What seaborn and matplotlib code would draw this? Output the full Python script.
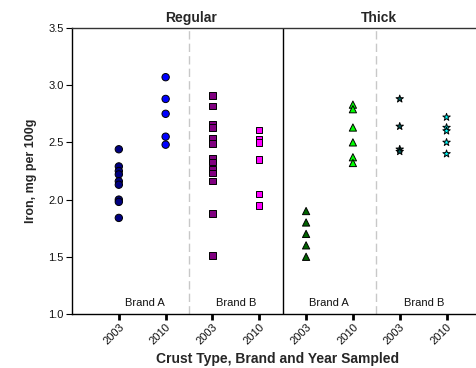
import numpy as np
import pandas as pd
import matplotlib
matplotlib.use("Agg")
import matplotlib.pyplot as plt
import matplotlib.transforms as mtransforms
import seaborn as sns

# ---- data ----
groups = ["Regular A 2003", "Regular A 2010", "Regular B 2003", "Regular B 2010",
          "Thick A 2003", "Thick A 2010", "Thick B 2003", "Thick B 2010"]
years = ["2003", "2010", "2003", "2010", "2003", "2010", "2003", "2010"]
crust_titles = ["Regular", "Thick"]
brand_labels = ["Brand A", "Brand B", "Brand A", "Brand B"]

reg_a_2003 = [2.44, 2.29, 2.25, 2.22, 2.16, 2.13, 2.00, 1.98, 1.84]
reg_a_2010 = [3.07, 2.88, 2.75, 2.55, 2.48]
reg_b_2003 = [2.91, 2.82, 2.66, 2.63, 2.54, 2.49, 2.36, 2.33, 2.27, 2.23, 2.16, 1.88, 1.51]
reg_b_2010 = [2.61, 2.53, 2.50, 2.35, 2.05, 1.95]
thick_a_2003 = [1.90, 1.80, 1.70, 1.60, 1.50]
thick_a_2010 = [2.83, 2.79, 2.63, 2.50, 2.37, 2.32]
thick_b_2003 = [2.88, 2.64, 2.44, 2.42]
thick_b_2010 = [2.72, 2.63, 2.60, 2.50, 2.40]

values = [reg_a_2003, reg_a_2010, reg_b_2003, reg_b_2010,
          thick_a_2003, thick_a_2010, thick_b_2003, thick_b_2010]
colors = ["#000080", "#0000FF", "#800080", "#FF00FF",
          "#006400", "#00FF00", "#005a5a", "#00FFFF"]
markers = ["o", "o", "s", "s", "^", "^", "*", "*"]
sizes = [5.3, 5.3, 4.6, 4.6, 5.2, 5.2, 5.6, 5.6]

df = pd.DataFrame({
    "group": np.concatenate([[g] * len(v) for g, v in zip(groups, values)]),
    "iron": np.concatenate(values),
})

# ---- style ----
sns.set_style("ticks")
plt.rcParams["font.family"] = ["Liberation Sans", "DejaVu Sans"]

fig = plt.figure(figsize=(4.76, 3.68), dpi=100)
ax = fig.add_axes([72 / 476, 54 / 368, 412 / 476, 286 / 368])

palette = dict(zip(groups, colors))
for i in range(0, 8, 2):
    sub = df[df["group"].isin(groups[i:i + 2])]
    sns.stripplot(data=sub, x="group", y="iron", order=groups, hue="group",
                  palette=palette, marker=markers[i], size=sizes[i], jitter=False,
                  edgecolor="black", linewidth=0.7, legend=False, ax=ax, zorder=3)

ax.set_xlim(-1.0, 7.8)
ax.set_ylim(1.0, 3.5)
ax.set_yticks([1.0, 1.5, 2.0, 2.5, 3.0, 3.5])
ax.set_yticklabels(["1.0", "1.5", "2.0", "2.5", "3.0", "3.5"], fontsize=8, color="#111111")
ax.set_xticks(range(8))
ax.set_xticklabels(years, rotation=45, ha="right", rotation_mode="anchor", fontsize=8,
                   color="#111111")
ax.tick_params(axis="x", length=4, width=2, direction="out", color="black", pad=2)
ax.tick_params(axis="y", length=4, width=0.8, direction="out", color="black", pad=2)

for s in ax.spines.values():
    s.set_color("black")
    s.set_linewidth(1.0)
ax.spines["top"].set_color("#333333")

ax.axvline(3.5, color="black", lw=1.0, zorder=2)
for xv in (1.5, 5.5):
    ax.axvline(xv, color="#c8c8c8", lw=1.0, ls=(0, (6, 3)), zorder=1)

trans = mtransforms.blended_transform_factory(ax.transData, ax.transAxes)
for xv, t in zip((1.55, 5.55), crust_titles):
    ax.text(xv, 1.035, t, transform=trans, ha="center", va="center",
            fontsize=10, fontweight="bold")
for xv, t in zip((0.55, 2.5, 4.48, 6.52), brand_labels):
    ax.text(xv, 1.096, t, ha="center", va="center", fontsize=8, color="#111111")

ax.set_xlabel("Crust Type, Brand and Year Sampled", fontsize=10, fontweight="bold", labelpad=4)
ax.set_ylabel("Iron, mg per 100g", fontsize=9, fontweight="bold", labelpad=8)

fig.savefig("out.png", dpi=100)
